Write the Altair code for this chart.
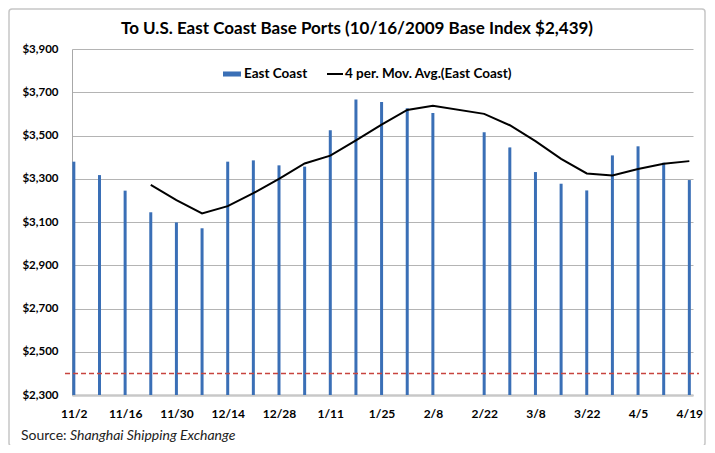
import altair as alt
import pandas as pd

# ---- data ----
dates = ["2009-11-02", "2009-11-09", "2009-11-16", "2009-11-23", "2009-11-30",
         "2009-12-07", "2009-12-14", "2009-12-21", "2009-12-28", "2010-01-04",
         "2010-01-11", "2010-01-18", "2010-01-25", "2010-02-01", "2010-02-08",
         "2010-02-22", "2010-03-01", "2010-03-08", "2010-03-15", "2010-03-22",
         "2010-03-29", "2010-04-05", "2010-04-12", "2010-04-19"]
east_coast = [3379, 3317, 3245, 3145, 3098, 3071, 3379, 3385, 3362, 3356,
              3524, 3667, 3655, 3626, 3604, 3515, 3445, 3331, 3277, 3246,
              3408, 3450, 3374, 3294]
x_tick_dates = [(2009, 11, 2), (2009, 11, 16), (2009, 11, 30), (2009, 12, 14),
                (2009, 12, 28), (2010, 1, 11), (2010, 1, 25), (2010, 2, 8),
                (2010, 2, 22), (2010, 3, 8), (2010, 3, 22), (2010, 4, 5),
                (2010, 4, 19)]
y_ticks = [2300, 2500, 2700, 2900, 3100, 3300, 3500, 3700, 3900]
base_level = 2400
series_bar = "East Coast"
series_ma = "4 per. Mov. Avg.(East Coast)"
title_text = "To U.S. East Coast Base Ports (10/16/2009 Base Index $2,439)"
source_label = "Source:"
source_name = "Shanghai Shipping Exchange"

df = pd.DataFrame({"date": [d + "T00:00:00" for d in dates], "value": east_coast})

W, H = 621, 346
FONT = "Lato"

x_scale = alt.Scale(domain=[alt.DateTime(year=2009, month=11, date=1, hours=12),
                            alt.DateTime(year=2010, month=4, date=20)],
                    padding=0)
y_scale = alt.Scale(domain=[y_ticks[0], y_ticks[-1]], zero=False, nice=False)

x_axis = alt.Axis(values=[alt.DateTime(year=y, month=m, date=d) for y, m, d in x_tick_dates],
                  format="%-m/%-d", title=None, grid=False, ticks=False,
                  labelFont=FONT, labelFontWeight="bold", labelFontSize=12,
                  labelColor="black", labelPadding=13, domainColor="#c8c8c8",
                  domainWidth=2.5)
y_axis = alt.Axis(values=y_ticks, format="$,.0f", title=None, ticks=False,
                  labelFont=FONT, labelFontWeight="bold", labelFontSize=11.5,
                  labelColor="black", labelPadding=14, gridColor="#b4b4b4",
                  gridWidth=1, domainColor="#a8a8a8", domainWidth=1)

base = alt.Chart(df)

bars = base.transform_calculate(s1=f"'{series_bar}'").mark_bar(size=3).encode(
    x=alt.X("date:T", scale=x_scale, axis=x_axis),
    y=alt.Y("value:Q", scale=y_scale, axis=y_axis),
    y2=alt.Y2(datum=y_ticks[0]),
    color=alt.Color("s1:N", scale=alt.Scale(domain=[series_bar], range=["#3a6fb6"]),
                    legend=alt.Legend(orient="none", legendX=151, legendY=16,
                                      title=None, symbolType="M-1,-0.28H1V0.28H-1Z",
                                      symbolSize=324, symbolStrokeWidth=0,
                                      labelFont=FONT, labelFontWeight="bold",
                                      labelFontSize=13.5, labelColor="black",
                                      labelOffset=3, labelLimit=300)),
)

ma_line = base.transform_window(
    ma="mean(value)", n="count()", frame=[-3, 0], sort=[alt.SortField("date")]
).transform_filter("datum.n == 4").transform_calculate(
    s2=f"'{series_ma}'"
).mark_line(strokeWidth=2).encode(
    x="date:T",
    y="ma:Q",
    stroke=alt.Stroke("s2:N", scale=alt.Scale(domain=[series_ma], range=["black"]),
                      legend=alt.Legend(orient="none", legendX=254, legendY=16,
                                        title=None, symbolType="stroke",
                                        symbolSize=256, symbolStrokeWidth=2,
                                        labelFont=FONT, labelFontWeight="bold",
                                        labelFontSize=13.5, labelColor="black",
                                        labelOffset=1, labelLimit=300)),
)

one = alt.Chart(pd.DataFrame({"k": [0]}))

ref_line = one.mark_rule(color="#c8443f", strokeDash=[5, 3], strokeWidth=1.5).encode(
    y=alt.Y(datum=base_level, type="quantitative"),
    x=alt.value(-7), x2=alt.value(W + 6),
)

border = one.mark_rect(fill="transparent", stroke="#c6c6c6", strokeWidth=1.5,
                       cornerRadius=3).encode(
    x=alt.value(-63), x2=alt.value(W + 12), y=alt.value(-40), y2=alt.value(H + 51)
)

src1 = one.mark_text(align="left", baseline="alphabetic", font=FONT, fontSize=14,
                     color="#222222").encode(
    x=alt.value(-51), y=alt.value(H + 45), text=alt.value(source_label))
src2 = one.mark_text(align="left", baseline="alphabetic", font=FONT, fontSize=14,
                     fontStyle="italic", color="#222222").encode(
    x=alt.value(-2), y=alt.value(H + 45), text=alt.value(source_name))

chart = alt.layer(border, bars, ma_line, ref_line, src1, src2).properties(
    width=W, height=H,
    title=alt.TitleParams(title_text, font=FONT, fontSize=17, fontWeight="bold",
                          color="black", anchor="middle", frame="bounds",
                          offset=10, dy=40),
    autosize=alt.AutoSizeParams(type="none"),
    padding={"left": 64, "top": 41, "right": 14, "bottom": 50},
).configure_view(stroke=None).resolve_scale(color="independent")

chart.save("out.html", embed_options={"renderer": "svg", "actions": False})
